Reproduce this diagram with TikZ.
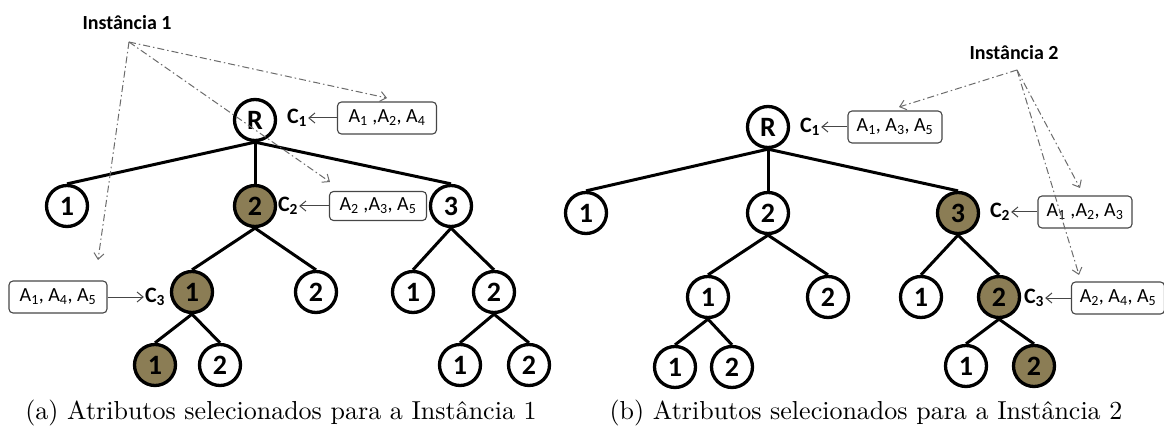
\documentclass[tikz,border=0pt]{standalone}
\usepackage{fontspec}
\usetikzlibrary{arrows.meta}
\newfontfamily\calib{Carlito}
\newfontfamily\capfont{lmroman10-regular}[Extension=.otf]
\definecolor{oliva}{RGB}{139,125,85}
\definecolor{linha}{RGB}{70,70,70}
\newcommand{\At}[1]{A\textsubscript{#1}}
\begin{document}
\begin{tikzpicture}[x=1pt,y=-1pt,>={Straight Barb[length=6pt,width=10pt]},
  nd/.style={circle,draw,line width=3.3pt,minimum size=41pt,inner sep=0pt,font=\calib\bfseries\fontsize{28}{32}\selectfont},
  sel/.style={nd,fill=oliva},
  ramo/.style={line width=3pt},
  attr/.style={draw=linha,line width=1.1pt,rounded corners=4pt,minimum width=#1,minimum height=32pt,inner sep=0pt,font=\calib\fontsize{20}{24}\selectfont},
  attr/.default=97pt,
  rot/.style={inner sep=1pt,font=\calib\bfseries\fontsize{22}{26}\selectfont},
  inst/.style={font=\calib\bfseries\fontsize{20}{24}\selectfont},
  seta/.style={->,draw=linha,line width=1pt},
  traco/.style={->,draw=linha!80,line width=1pt,dash pattern=on 7pt off 3pt on 1.5pt off 3pt},
  leg/.style={font=\capfont\fontsize{26}{30}\selectfont}]
\useasboundingbox (0,0) rectangle (1164,430);

% (a) instancia 1
\node[nd] (Ra) at (255,120) {R};
\node[nd] (a1) at (67,206) {1};
\node[sel] (a2) at (255,206) {2};
\node[nd] (a3) at (451,206) {3};
\node[sel] (a21) at (192,292) {1};
\node[nd] (a22) at (316,292) {2};
\node[nd] (a31) at (413,292) {1};
\node[nd] (a32) at (494,292) {2};
\node[sel] (a211) at (155,365) {1};
\node[nd] (a212) at (220,365) {2};
\node[nd] (a321) at (460,365) {1};
\node[nd] (a322) at (529,365) {2};
\foreach \p/\f in {Ra/a1,Ra/a2,Ra/a3,a2/a21,a2/a22,a3/a31,a3/a32,a21/a211,a21/a212,a32/a321,a32/a322}
  \draw[ramo] (\p.south) -- (\f.north);

\node[rot] (ca1) at (297,118) {C\textsubscript{1}};
\node[attr=99pt] (ba1) at (387,118) {\At1 ,\At2, \At4};
\draw[seta] (ba1.west) -- (ca1.east);
\node[rot] (ca2) at (288,206) {C\textsubscript{2}};
\node[attr=97pt,minimum height=29pt] (ba2) at (378,206) {\At2 ,\At3, \At5};
\draw[seta] (ba2.west) -- (ca2.east);
\node[rot] (ca3) at (155,297) {C\textsubscript{3}};
\node[attr=98pt] (ba3) at (58,297) {\At1, \At4, \At5};
\draw[seta] (ba3.east) -- (ca3.west);

\node[inst] (i1) at (127,23) {Instância 1};
\coordinate (o1) at (129,42);
\coordinate (t11) at (387,98);
\coordinate (t12) at (330,182);
\coordinate (t13) at (98,260);
\foreach \t in {t11,t12,t13}
  \draw[traco] (o1) -- (\t);

% (b) instancia 2
\node[nd] (Rb) at (768,127) {R};
\node[nd] (b1) at (586,213) {1};
\node[nd] (b2) at (768,213) {2};
\node[sel] (b3) at (958,213) {3};
\node[nd] (b21) at (708,297) {1};
\node[nd] (b22) at (828,297) {2};
\node[nd] (b31) at (921,297) {1};
\node[sel] (b32) at (999,297) {2};
\node[nd] (b211) at (675,367) {1};
\node[nd] (b212) at (732,367) {2};
\node[nd] (b321) at (966,366) {1};
\node[sel] (b322) at (1034,366) {2};
\foreach \p/\f in {Rb/b1,Rb/b2,Rb/b3,b2/b21,b2/b22,b3/b31,b3/b32,b21/b211,b21/b212,b32/b321,b32/b322}
  \draw[ramo] (\p.south) -- (\f.north);

\node[rot] (cb1) at (810,127) {C\textsubscript{1}};
\node[attr=94pt] (bb1) at (895,127) {\At1, \At3, \At5};
\draw[seta] (bb1.west) -- (cb1.east);
\node[rot] (cb2) at (1000,212) {C\textsubscript{2}};
\node[attr=94pt] (bb2) at (1085,212) {\At1 ,\At2, \At3};
\draw[seta] (bb2.west) -- (cb2.east);
\node[rot] (cb3) at (1034,298) {C\textsubscript{3}};
\node[attr=93pt] (bb3) at (1118,298) {\At2, \At4, \At5};
\draw[seta] (bb3.west) -- (cb3.east);

\node[inst] (i2) at (1014,53) {Instância 2};
\coordinate (o2) at (1017,70);
\coordinate (t21) at (899,107);
\coordinate (t22) at (1080,188);
\coordinate (t23) at (1079,275);
\foreach \t in {t21,t22,t23}
  \draw[traco] (o2) -- (\t);

% legendas
\node[leg] (lega) at (281,413) {(a) Atributos selecionados para a Instância 1};
\node[leg] (legb) at (866,413) {(b) Atributos selecionados para a Instância 2};
\end{tikzpicture}
\end{document}
